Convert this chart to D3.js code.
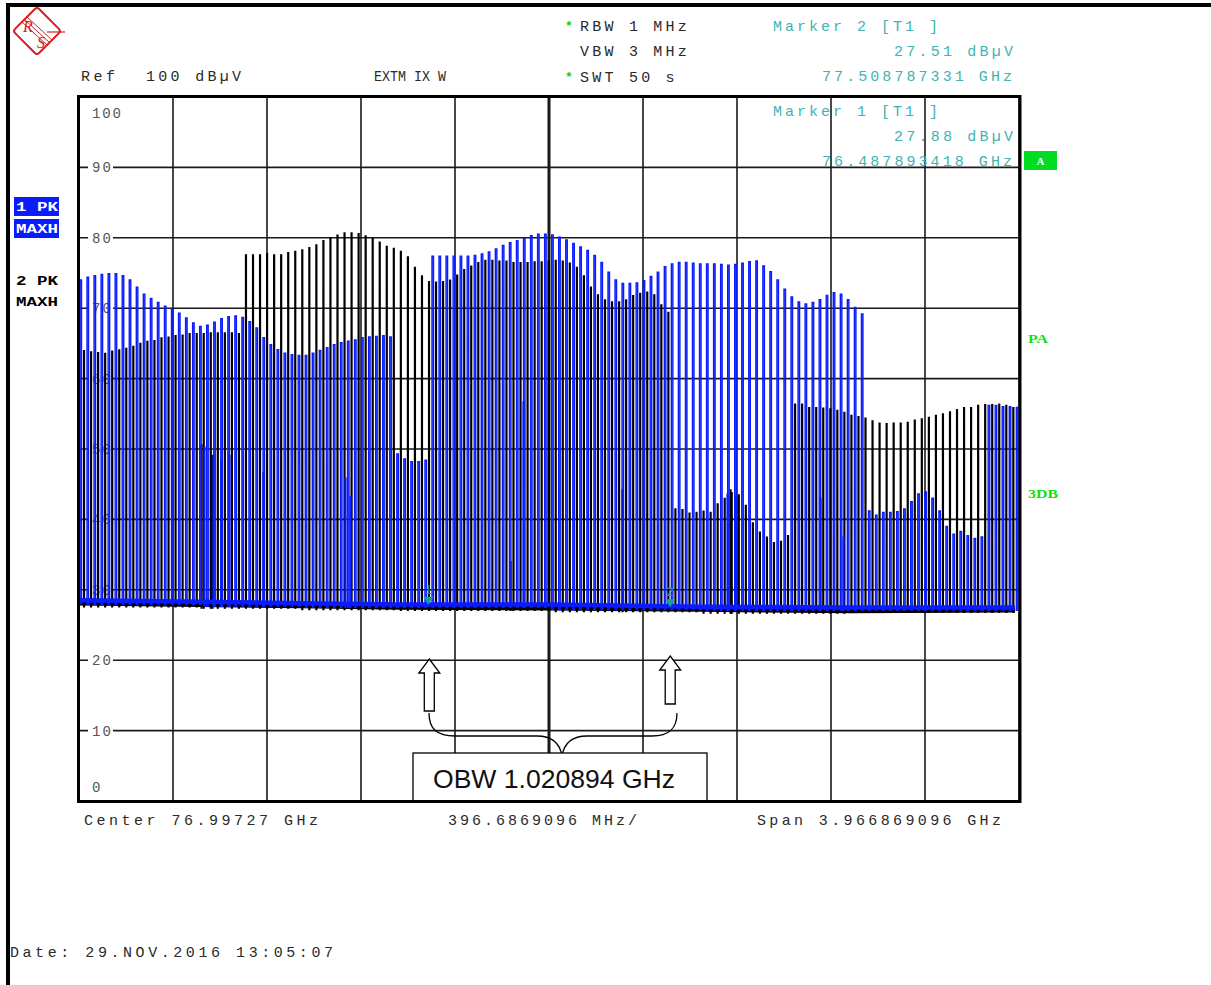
<!DOCTYPE html>
<html><head><meta charset="utf-8">
<script src="https://cdn.jsdelivr.net/npm/d3@7"></script>
<style>
body{margin:0;background:#fff;}
svg text{font-family:"Liberation Mono","DejaVu Sans Mono",monospace;}
</style>
</head><body>
<svg id="c" width="1211" height="985"></svg>
<script>
// ---------------- DATA ----------------
const centerGHz = 76.99727;
const spanGHz = 3.966869096;
const refLevel = 100;
const yTicks = [100, 90, 80, 70, 60, 50, 40, 30, 20, 10, 0];

// Trace 1 (blue, 1 PK MAXH): comb lines, evenly spaced
const blueStartGHz = 75.0180;
const blueStepGHz = 0.02971;
const bluePeaks = [74.0,74.4,74.6,74.8,74.9,74.9,74.6,74.0,73.0,72.0,
71.4,70.8,70.3,69.9,69.3,68.6,67.9,67.4,67.6,68.0,
68.5,68.8,68.9,68.7,68.1,67.2,65.8,64.8,64.1,63.6,
63.4,63.3,63.3,63.6,64.0,64.4,64.8,65.1,65.3,65.5,
65.8,65.9,66.0,66.1,65.9,49.3,48.6,48.2,48.2,48.4,
77.4,77.4,77.4,77.4,77.4,77.4,77.5,77.7,78.0,78.4,
78.9,79.3,79.6,79.9,80.3,80.5,80.5,80.4,80.1,79.7,
79.2,78.7,78.2,77.5,76.5,75.1,74.0,73.5,73.5,73.6,
73.9,74.5,75.1,75.9,76.3,76.5,76.5,76.4,76.3,76.3,
76.3,76.2,76.1,76.2,76.4,76.6,76.7,76.0,75.2,74.0,
72.7,71.6,70.9,70.6,70.8,71.2,71.8,72.2,72.0,71.2,
70.1,69.2,41.2,40.6,41.0,41.0,41.1,41.5,42.5,43.6,
43.9,43.0,41.2,39.0,37.9,38.3,37.7,37.3,37.5,56.2,
56.2,56.0,56.0,55.9];
const blueMinorGHz = [75.5413, 75.5793, 75.6131, 75.6469, 75.7903, 76.1363, 76.1574, 76.8876, 77.7485, 77.7823, 78.1410, 78.2381];
const blueMinorDb  = [50.3, 49.0, 48.4, 49.1, 46.7, 45.9, 43.2, 56.7, 43.6, 43.2, 43.0, 37.5];
const blueFloorGHz = [75.018, 75.525, 75.947, 76.369, 77.002, 77.635, 78.268, 78.964];
const blueFloorDb  = [28.5, 28.3, 28.1, 27.9, 27.9, 27.6, 27.5, 27.5];

// Trace 2 (black, 2 PK MAXH)
const blackStartGHz = 75.0328;
const blackStepGHz = 0.02971;
const blackPeaks = [64.0,63.8,63.7,63.6,63.9,64.1,64.3,64.6,65.0,65.3,
65.4,65.8,65.9,66.1,66.2,66.4,66.4,66.4,66.5,66.5,
66.5,66.5,66.4,77.6,77.6,77.6,77.8,77.6,77.6,77.9,
78.1,78.3,78.6,79.0,79.6,80.0,80.4,80.7,80.7,80.6,
80.3,79.9,79.4,78.8,78.5,78.1,77.3,75.8,74.6,73.8,
73.7,73.8,74.0,74.7,75.5,76.0,76.5,76.8,76.8,76.7,
76.7,76.5,76.5,76.5,76.6,76.6,76.7,76.8,76.7,76.4,
75.8,74.6,73.0,71.9,71.2,70.9,70.9,71.2,71.8,72.1,
72.3,71.9,70.5,69.4,41.5,41.4,40.9,41.0,41.2,41.0,
42.2,43.0,43.8,43.5,42.0,39.5,38.2,37.5,36.7,36.9,
37.7,56.4,56.4,55.9,55.9,55.8,55.7,55.5,55.2,54.8,
54.6,54.4,54.0,53.7,53.6,53.7,53.7,53.8,54.1,54.3,
54.5,54.8,55.0,55.3,55.6,55.9,55.9,56.2,56.3,56.3,
56.4,56.2,55.9];
const blackMinorGHz = [75.5287, 75.5751, 76.8326, 77.3053, 77.7612];
const blackMinorDb  = [50.6, 49.1, 34.0, 44.2, 44.2];
const blackFloorGHz = [75.018, 75.525, 75.947, 76.369, 77.002, 77.635, 78.268, 78.964];
const blackFloorDb  = [28.2, 28.0, 27.8, 27.6, 27.5, 27.3, 27.1, 27.2];

// Markers
const markerNames = ["1", "2"];
const markerGHz = [76.487893418, 77.508787331];
const markerDb = [27.88, 27.51];

// Texts
const headerLeft = ["Ref", "100 dBµV", "EXTM IX W"];
const settings = ["RBW 1 MHz", "VBW 3 MHz", "SWT 50 s"];
const settingStar = [true, false, true];
const markerText = [["Marker 2 [T1 ]", "27.51 dBµV", "77.508787331 GHz"],
                    ["Marker 1 [T1 ]", "27.88 dBµV", "76.487893418 GHz"]];
const footer = ["Center 76.99727 GHz", "396.6869096 MHz/", "Span 3.966869096 GHz"];
const dateText = "Date: 29.NOV.2016  13:05:07";
const obwText = "OBW 1.020894 GHz";

// ---------------- DRAW ----------------
const svg = d3.select("#c");
const L = 79, R = 1019, T = 97, B = 801;
const x = d3.scaleLinear().domain([centerGHz - spanGHz/2, centerGHz + spanGHz/2]).range([L, R]);
const y = d3.scaleLinear().domain([0, refLevel]).range([B, T]);
const FS = "15px";

// page border
svg.append("line").attr("x1", 6).attr("x2", 1211).attr("y1", 5).attr("y2", 5).attr("stroke", "#000").attr("stroke-width", 4);
svg.append("line").attr("x1", 8).attr("x2", 8).attr("y1", 3).attr("y2", 985).attr("stroke", "#000").attr("stroke-width", 4);

// R&S logo
const RED = "#d42020";
const logo = svg.append("g").attr("transform", "translate(37,31)");
logo.append("rect").attr("x", -17).attr("y", -17).attr("width", 34).attr("height", 34).attr("rx", 3)
  .attr("transform", "rotate(45)").attr("fill", "none").attr("stroke", RED).attr("stroke-width", 2);
[-2.5, 0, 2.5].forEach(o => {
  logo.append("line").attr("x1", -13 + o).attr("y1", -12 - o).attr("x2", 13 + o).attr("y2", 12 - o)
    .attr("stroke", RED).attr("stroke-width", 1);
});
logo.append("line").attr("x1", 10).attr("y1", 1).attr("x2", 28).attr("y2", 1).attr("stroke", RED).attr("stroke-width", 1.2);
logo.append("text").attr("x", -14).attr("y", 1).text("R").attr("fill", RED)
  .style("font-family", "Liberation Serif").style("font-size", "16px").style("font-style", "italic");
logo.append("text").attr("x", 0).attr("y", 17).text("S").attr("fill", RED)
  .style("font-family", "Liberation Serif").style("font-size", "16px").style("font-style", "italic");

// header texts
const hdr = svg.append("g").style("font-size", FS).attr("fill", "#2a2a2a");
hdr.append("text").attr("x", 81).attr("y", 81).attr("textLength", 34).attr("lengthAdjust", "spacing").text(headerLeft[0]);
hdr.append("text").attr("x", 146).attr("y", 81).attr("textLength", 95).attr("lengthAdjust", "spacing").text(headerLeft[1]);
hdr.append("text").attr("x", 374).attr("y", 81).attr("textLength", 72).attr("lengthAdjust", "spacingAndGlyphs").text(headerLeft[2]);
const setY = [31, 56, 81.5];
settings.forEach((s, i) => {
  hdr.append("text").attr("x", 580).attr("y", setY[i]).attr("textLength", s.length * 12.2 - 3).attr("lengthAdjust", "spacing").text(s);
  if (settingStar[i]) hdr.append("text").attr("x", 565).attr("y", setY[i] - 1).attr("fill", "#11cc11").style("font-size", "13px").style("font-weight", "bold").text("*");
});

// grid
const grid = svg.append("g");
yTicks.forEach(t => {
  grid.append("line").attr("x1", L).attr("x2", R).attr("y1", y(t)).attr("y2", y(t)).attr("stroke", "#1a1a1a").attr("stroke-width", 1.6);
});
d3.range(11).forEach(k => {
  const gx = L + (R - L) * k / 10;
  grid.append("line").attr("x1", gx).attr("x2", gx).attr("y1", T).attr("y2", B)
    .attr("stroke", "#1a1a1a").attr("stroke-width", k === 5 ? 3 : 1.6);
});
// y labels
const yl = svg.append("g").style("font-size", "14px").attr("fill", "#555");
yTicks.forEach(t => {
  let cy = y(t);
  if (t === 100) cy = y(t) + 16;
  if (t === 0) cy = y(t) - 14;
  const txt = String(t);
  if (t !== 100 && t !== 0) {
    yl.append("rect").attr("x", 88).attr("y", cy - 6).attr("width", txt.length * 10 + 5).attr("height", 12).attr("fill", "#fff");
  }
  yl.append("text").attr("x", 92).attr("y", cy + 5).attr("textLength", txt.length * 10 - 1).attr("lengthAdjust", "spacing").text(txt);
});

// marker info (over grid)
const mk = svg.append("g").style("font-size", FS).attr("fill", "#3fb3b3");
markerText.forEach((m, i) => {
  const by = i === 0 ? 31 : 116;
  mk.append("text").attr("x", 773).attr("y", by).attr("textLength", 165).attr("lengthAdjust", "spacing").text(m[0]);
  mk.append("text").attr("x", 894).attr("y", by + 25).attr("textLength", 119).attr("lengthAdjust", "spacing").text(m[1]);
  mk.append("text").attr("x", 822).attr("y", by + 50).attr("textLength", 190).attr("lengthAdjust", "spacing").text(m[2]);
});

// traces
svg.append("clipPath").attr("id", "pc").append("rect").attr("x", L).attr("y", T).attr("width", R - L).attr("height", B - T);
const tr = svg.append("g").attr("clip-path", "url(#pc)");

function floorAt(gx, fGHz, fDb) {
  let i = d3.bisectLeft(fGHz, gx);
  i = Math.max(0, Math.min(fDb.length - 1, i));
  return fDb[i];
}
function combPath(freqs, peaks, fGHz, fDb, w) {
  return peaks.map((p, i) => {
    const f = freqs[i];
    const xx = x(f);
    const yb = y(floorAt(f, fGHz, fDb) - 0.5);
    return `M${xx},${yb}V${y(p)}H${xx + w}V${yb}`;
  }).join("");
}
const blueFreqs = bluePeaks.map((_, i) => blueStartGHz + i * blueStepGHz);
const blackFreqs = blackPeaks.map((_, i) => blackStartGHz + i * blackStepGHz);
const floorLine = d3.line().x(d => x(d[0])).y(d => y(d[1]));

const BLUE = "#0b1bff";
// black trace
tr.append("path").attr("d", combPath(blackFreqs, blackPeaks, blackFloorGHz, blackFloorDb, 1.1))
  .attr("fill", "none").attr("stroke", "#000").attr("stroke-width", 1.1);
tr.append("path").attr("d", combPath(blackMinorGHz, blackMinorDb, blackFloorGHz, blackFloorDb, 1.1))
  .attr("fill", "none").attr("stroke", "#000").attr("stroke-width", 1.1);
tr.append("path").attr("d", floorLine(blackFloorGHz.map((f, i) => [f, blackFloorDb[i]])))
  .attr("fill", "none").attr("stroke", "#000").attr("stroke-width", 6);
// blue trace
tr.append("path").attr("d", combPath(blueFreqs, bluePeaks, blueFloorGHz, blueFloorDb, 1.5))
  .attr("fill", "none").attr("stroke", BLUE).attr("stroke-width", 1.4);
tr.append("path").attr("d", combPath(blueMinorGHz, blueMinorDb, blueFloorGHz, blueFloorDb, 1.0))
  .attr("fill", "none").attr("stroke", BLUE).attr("stroke-width", 1.2);
tr.append("path").attr("d", floorLine(blueFloorGHz.map((f, i) => [f, blueFloorDb[i]])))
  .attr("fill", "none").attr("stroke", BLUE).attr("stroke-width", 4.5);

// markers
const mg = svg.append("g");
markerGHz.forEach((f, i) => {
  const mx = x(f), my = y(markerDb[i]);
  mg.append("path").attr("d", `M${mx - 5},${my - 8}H${mx + 5}L${mx},${my}Z`).attr("fill", "#16a096");
  mg.append("text").attr("x", mx).attr("y", my - 11).attr("text-anchor", "middle").attr("fill", "#16a096")
    .style("font-size", "12px").text(markerNames[i]);
});

// frame
svg.append("rect").attr("x", L - 0.5).attr("y", T - 0.5).attr("width", R - L + 1.5).attr("height", B - T + 1)
  .attr("fill", "none").attr("stroke", "#000").attr("stroke-width", 3);

// A box, PA, 3DB
svg.append("rect").attr("x", 1024).attr("y", 151).attr("width", 33).attr("height", 19).attr("fill", "#00dd22");
svg.append("text").attr("x", 1040.5).attr("y", 165).attr("text-anchor", "middle").attr("fill", "#fff")
  .style("font-family", "Liberation Serif").style("font-weight", "bold").style("font-size", "11px").text("A");
svg.append("text").attr("x", 1028).attr("y", 343).attr("fill", "#11e011").attr("textLength", 20).attr("lengthAdjust", "spacingAndGlyphs")
  .style("font-family", "Liberation Serif").style("font-weight", "bold").style("font-size", "12px").text("PA");
svg.append("text").attr("x", 1028).attr("y", 498).attr("fill", "#11e011").attr("textLength", 30).attr("lengthAdjust", "spacingAndGlyphs")
  .style("font-family", "Liberation Serif").style("font-weight", "bold").style("font-size", "12px").text("3DB");

// trace labels left
const tl = svg.append("g").style("font-family", "Liberation Serif").style("font-weight", "bold").style("font-size", "12px");
tl.append("rect").attr("x", 14).attr("y", 197).attr("width", 45).attr("height", 19).attr("fill", BLUE);
tl.append("rect").attr("x", 14).attr("y", 219).attr("width", 45).attr("height", 19).attr("fill", BLUE);
tl.append("text").attr("x", 16).attr("y", 211).attr("fill", "#fff").attr("textLength", 42).attr("lengthAdjust", "spacingAndGlyphs").text("1 PK");
tl.append("text").attr("x", 16).attr("y", 233).attr("fill", "#fff").attr("textLength", 42).attr("lengthAdjust", "spacingAndGlyphs").text("MAXH");
tl.append("text").attr("x", 16).attr("y", 285).attr("fill", "#000").attr("textLength", 42).attr("lengthAdjust", "spacingAndGlyphs").text("2 PK");
tl.append("text").attr("x", 16).attr("y", 306).attr("fill", "#000").attr("textLength", 42).attr("lengthAdjust", "spacingAndGlyphs").text("MAXH");

// footer
const ft = svg.append("g").style("font-size", FS).attr("fill", "#2a2a2a");
ft.append("text").attr("x", 84).attr("y", 825).attr("textLength", 234).attr("lengthAdjust", "spacing").text(footer[0]);
ft.append("text").attr("x", 448).attr("y", 825).attr("textLength", 189).attr("lengthAdjust", "spacing").text(footer[1]);
ft.append("text").attr("x", 757).attr("y", 825).attr("textLength", 244).attr("lengthAdjust", "spacing").text(footer[2]);
ft.append("text").attr("x", 10).attr("y", 957).attr("textLength", 323).attr("lengthAdjust", "spacing").text(dateText);

// OBW annotation: arrows, brace, box
const ann = svg.append("g");
const arrowTop = [659, 656], arrowBot = [711, 704];
markerGHz.forEach((f, i) => {
  const cx = x(f) + (i === 0 ? 1 : 0);
  const t = arrowTop[i], b = arrowBot[i], hb = t + 14;
  ann.append("path").attr("d", `M${cx},${t}L${cx + 10.5},${hb}H${cx + 5}V${b}H${cx - 5}V${hb}H${cx - 10.5}Z`)
    .attr("fill", "#fff").attr("stroke", "#000").attr("stroke-width", 1.3);
});
const bx = 560;
ann.append("path").attr("d",
  `M429,713 C429,729 437,736 455,736 L537,736 C552,736 560,744 ${bx + 2},756 C564,744 572,736 587,736 L652,736 C669,736 677,729 677,713`)
  .attr("fill", "none").attr("stroke", "#000").attr("stroke-width", 1.3);
ann.append("rect").attr("x", 413).attr("y", 753).attr("width", 294).attr("height", 48)
  .attr("fill", "#fff").attr("stroke", "#000").attr("stroke-width", 1.3);
ann.append("text").attr("x", 433).attr("y", 788).attr("textLength", 242).attr("lengthAdjust", "spacingAndGlyphs")
  .style("font-family", "Liberation Sans, Arial, sans-serif").style("font-size", "26px").attr("fill", "#111").text(obwText);
svg.append("line").attr("x1", L - 2).attr("x2", R + 2).attr("y1", B + 0.5).attr("y2", B + 0.5).attr("stroke", "#000").attr("stroke-width", 3);
</script>
</body></html>
